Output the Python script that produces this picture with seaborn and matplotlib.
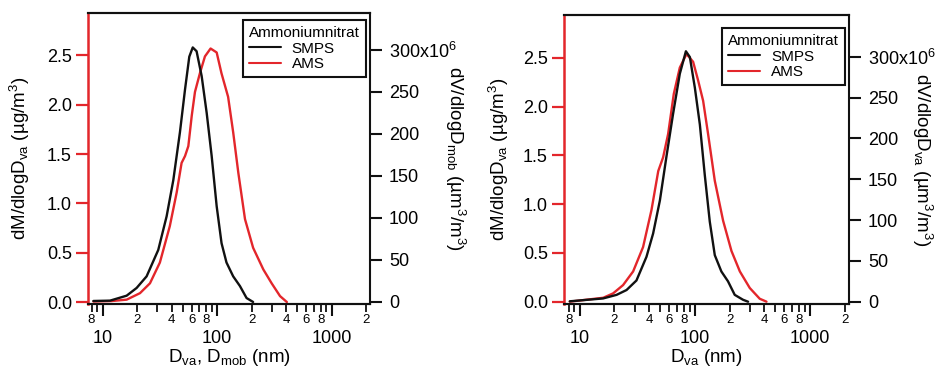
import numpy as np
import pandas as pd
import matplotlib
matplotlib.use("Agg")
import matplotlib.pyplot as plt
import matplotlib.ticker as mticker
from matplotlib.lines import Line2D
import seaborn as sns

# ---------------- data ----------------
# Left panel
smps_d_left = [8.3, 11.6, 16.2, 19.8, 24.2, 30.6, 36.2, 41.4, 47.3, 52.4, 57.1, 61.2,
               66.1, 73.2, 81.0, 89.5, 99.0, 109.2, 120.6, 138, 158, 180.6, 206]
smps_dv_left = [1.2, 1.6, 7.5, 16.7, 30.5, 62, 102, 145, 202, 253, 292, 303,
                298.5, 269, 225, 174, 114, 70, 47, 30.5, 19, 4.7, 0]
ams_d_left = [8.3, 12.0, 16.2, 21.2, 25.9, 31.6, 38.6, 44.3, 48.9, 52.4, 56.0, 60.0, 64.0,
              70.7, 78.2, 87.6, 99, 109, 124.6, 138, 153, 175, 206, 253, 299, 354, 406]
ams_dm_left = [0.005, 0.01, 0.024, 0.09, 0.19, 0.40, 0.77, 1.11, 1.41, 1.48, 1.58, 1.89, 2.13,
               2.32, 2.49, 2.57, 2.53, 2.32, 2.08, 1.72, 1.31, 0.84, 0.55, 0.33, 0.19, 0.06, 0.0]
# Right panel
smps_d_right = [8.19, 15.95, 20.9, 25.5, 31.1, 38.0, 43.4, 49.7, 56.7, 64.7, 74.0, 83.6,
                90.5, 100, 110.5, 122, 134.8, 149, 170, 194, 222, 262, 290]
smps_dv_right = [0.5, 4, 8.4, 14.3, 26, 55, 83.5, 124, 178, 230, 279, 306.6,
                 299.5, 262, 217, 155, 98, 57, 37, 25, 8.4, 2.4, 0]
ams_d_right = [8.2, 16, 19.5, 23.8, 29.1, 35.5, 42.0, 48.1, 53.0, 58.6, 65.6, 74, 84.6,
               96.6, 106.7, 118, 130.3, 149, 176, 208, 246, 300, 366, 419]
ams_dm_right = [0.0, 0.04, 0.085, 0.17, 0.31, 0.56, 0.94, 1.34, 1.48, 1.72, 2.13, 2.40, 2.54,
                2.46, 2.27, 2.06, 1.72, 1.24, 0.83, 0.52, 0.31, 0.14, 0.03, 0]

left_yticks = [0.0, 0.5, 1.0, 1.5, 2.0, 2.5]
right_yticks = [0, 50, 100, 150, 200, 250, 300]
x_major = [10, 100, 1000]
x_minor_labeled = [8, 20, 40, 60, 80, 200, 400, 600, 800, 2000]
legend_title = "Ammoniumnitrat"
series_names = ["SMPS", "AMS"]

# ---------------- style ----------------
sns.set_theme(style="ticks")
plt.rcParams["font.family"] = ["Liberation Sans", "DejaVu Sans"]
plt.rcParams["mathtext.default"] = "regular"
for k in ("text.color", "axes.labelcolor", "xtick.color", "ytick.color"):
    plt.rcParams[k] = "black"

RED = "#e3262b"
BLACK = "#111111"

fig = plt.figure(figsize=(9.36, 3.71), dpi=100)

panels = [
    dict(rect=[88/936, 67/371, 282/936, 291/371],
         smps=(smps_d_left, smps_dv_left), ams=(ams_d_left, ams_dm_left),
         xlim=(7.45, 2160), ylim=(-0.02, 2.93), y2lim=(-2.4, 344),
         xlabel=r"D$_{va}$, D$_{mob}$ (nm)",
         y2label=r"dV/dlogD$_{mob}$ (µm$^{3}$/m$^{3}$)",
         ylab_x=-0.241, y2lab_x=1.30,
         leg_anchor=(0.985, 0.976)),
    dict(rect=[564/936, 67/371, 285/936, 289/371],
         smps=(smps_d_right, smps_dv_right), ams=(ams_d_right, ams_dm_right),
         xlim=(7.30, 2183), ylim=(-0.024, 2.94), y2lim=(-2.8, 351),
         xlabel=r"D$_{va}$ (nm)",
         y2label=r"dV/dlogD$_{va}$ (µm$^{3}$/m$^{3}$)",
         ylab_x=-0.228, y2lab_x=1.255,
         leg_anchor=(0.987, 0.955)),
]

minor_all = [m * 10**e for e in range(0, 4) for m in range(2, 10)]


def minor_fmt(v, pos):
    for t in x_minor_labeled:
        if abs(v - t) / t < 1e-6:
            return str(int(round(v)))[0]
    return ""


for p in panels:
    ax = fig.add_axes(p["rect"])
    ax2 = ax.twinx()

    df_ams = pd.DataFrame({"d": p["ams"][0], "v": p["ams"][1]})
    df_smps = pd.DataFrame({"d": p["smps"][0], "v": p["smps"][1]})
    sns.lineplot(data=df_ams, x="d", y="v", ax=ax, color=RED, lw=1.7, sort=False)
    sns.lineplot(data=df_smps, x="d", y="v", ax=ax2, color=BLACK, lw=1.7, sort=False)

    for a in (ax, ax2):
        a.set_xscale("log")
        a.set_xlim(*p["xlim"])
        a.set_xlabel("")
        a.set_ylabel("")
        a.set_facecolor("none")
    ax.set_ylim(*p["ylim"])
    ax2.set_ylim(*p["y2lim"])

    for a in (ax, ax2):
        for s in a.spines.values():
            s.set_linewidth(1.5)
            s.set_color(BLACK)
    ax.spines["left"].set_color(RED)
    ax.spines["left"].set_linewidth(1.8)
    ax2.spines["left"].set_visible(False)
    ax.spines["right"].set_visible(False)

    # y ticks
    ax.set_yticks(left_yticks)
    ax.yaxis.set_major_formatter(mticker.FormatStrFormatter("%.1f"))
    ax.tick_params(axis="y", direction="out", length=8.6, width=1.6, color=RED,
                   labelcolor="black", labelsize=13, pad=3)
    ax2.set_yticks(right_yticks)
    ax2.set_yticklabels([("300x10$^{6}$" if v == 300 else str(v)) for v in right_yticks])
    ax2.tick_params(axis="y", direction="out", length=8.6, width=1.5, color=BLACK,
                    labelcolor="black", labelsize=13, pad=5)

    # x ticks
    ax.xaxis.set_major_locator(mticker.FixedLocator(x_major))
    ax.xaxis.set_major_formatter(mticker.FixedFormatter([str(v) for v in x_major]))
    ax.xaxis.set_minor_locator(mticker.FixedLocator(minor_all))
    ax.xaxis.set_minor_formatter(mticker.FuncFormatter(minor_fmt))
    ax.tick_params(axis="x", which="major", direction="out", length=8.6, width=1.5,
                   color=BLACK, labelcolor="black", labelsize=13, pad=10)
    ax.tick_params(axis="x", which="minor", direction="out", length=5.5, width=1.3,
                   color=BLACK, labelcolor="black", labelsize=9.5, pad=2)
    ax2.tick_params(axis="x", which="both", bottom=False, top=False, labelbottom=False)
    ax.tick_params(axis="x", which="both", top=False)

    ax.set_xlabel(p["xlabel"], fontsize=13.5, labelpad=0, color="black")
    ax.set_ylabel(r"dM/dlogD$_{va}$ (µg/m$^{3}$)", fontsize=13.5, va="center",
                  color="black")
    ax.yaxis.set_label_coords(p["ylab_x"], 0.5)
    ax2.set_ylabel(p["y2label"], fontsize=13.5, rotation=270, va="center",
                   color="black")
    ax2.yaxis.set_label_coords(p["y2lab_x"], 0.5)

    handles = [Line2D([], [], color=BLACK, lw=1.5), Line2D([], [], color=RED, lw=1.5)]
    leg = ax2.legend(handles, series_names, title=legend_title, loc="upper right",
                     bbox_to_anchor=p["leg_anchor"], fontsize=11, title_fontsize=11,
                     frameon=True, fancybox=False, handlelength=2.1,
                     borderpad=0.4, labelspacing=0.1, handletextpad=0.7,
                     borderaxespad=0)
    leg._legend_box.align = "left"
    leg.get_title().set_color("black")
    for t in leg.get_texts():
        t.set_color("black")
    fr = leg.get_frame()
    fr.set_edgecolor(BLACK)
    fr.set_linewidth(1.5)
    fr.set_alpha(1)

fig.savefig("out.png", dpi=100)
